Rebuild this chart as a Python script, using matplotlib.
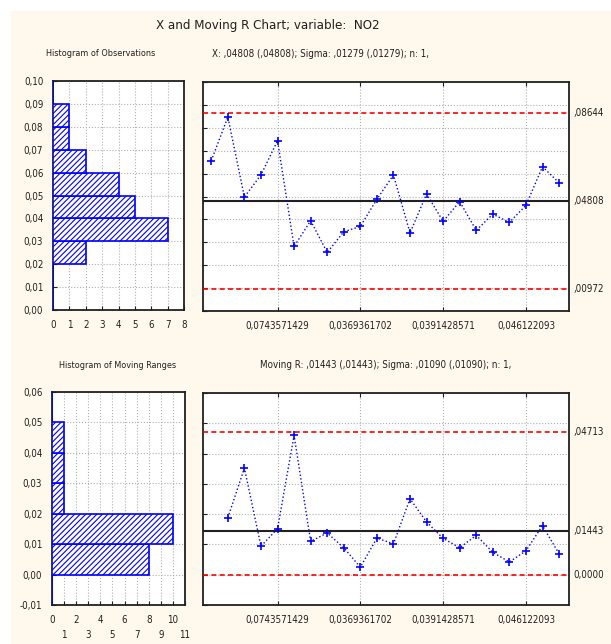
import numpy as np
import matplotlib
matplotlib.use("Agg")
import matplotlib.pyplot as plt
from matplotlib.patches import Rectangle
from matplotlib.transforms import blended_transform_factory

plt.rcParams["font.family"] = ["DejaVu Sans"]
plt.rcParams["font.stretch"] = "condensed"
plt.rcParams["hatch.linewidth"] = 0.8
plt.rcParams["hatch.color"] = "#0000FF"

# NO2 observations (sample 1..22)
obs = [0.0656, 0.0847, 0.0498, 0.0594, 0.0743571429, 0.0282, 0.0394, 0.0256,
       0.0346, 0.0369361702, 0.0488, 0.0594, 0.0341, 0.0511, 0.0391428571,
       0.0478, 0.0352, 0.0423, 0.0387, 0.046122093, 0.0630, 0.0560]

# moving ranges (sample 2..22)
mr = [0.0188, 0.0352, 0.0094, 0.0152, 0.0460, 0.0110, 0.0138, 0.0089, 0.0025,
      0.0121, 0.0102, 0.0251, 0.0174, 0.0120, 0.0089, 0.0130, 0.0074, 0.0042,
      0.0079, 0.0162, 0.0069]

# control limits
x_lcl, x_cl, x_ucl = 0.00972, 0.04808, 0.08644
r_lcl, r_cl, r_ucl = 0.0, 0.01443, 0.04713

# histogram bins and counts
obs_bins = [0.00, 0.01, 0.02, 0.03, 0.04, 0.05, 0.06, 0.07, 0.08, 0.09]
obs_counts = [0, 0, 2, 7, 5, 4, 2, 1, 1, 0]
mr_bins = [-0.01, 0.00, 0.01, 0.02, 0.03, 0.04, 0.05]
mr_counts = [0, 8, 10, 1, 1, 1, 0]

BLUE = "#0000FF"
CREAM = "#FFF8EC"
TEXT = "#202020"
TICK_FS = 7
XPAD = 7


def comma(v, nd):
    return f"{v:.{nd}f}".replace(".", ",")


def limit_label(v):
    if v == 0:
        return "0,0000"
    return f"{v:.5f}".replace("0.", ",", 1)


fig = plt.figure(figsize=(6.11, 6.44), dpi=100, facecolor="white")
W, H = 611, 644
fig.patches.append(Rectangle((11 / W, 0), 1, 1 - 11 / H, transform=fig.transFigure,
                             facecolor=CREAM, edgecolor="none", zorder=-10))


def axes_px(left, top, right, bottom):
    return fig.add_axes([left / W, 1 - bottom / H, (right - left) / W, (bottom - top) / H])


def style_frame(ax):
    for s in ax.spines.values():
        s.set_linewidth(1.3)
        s.set_color(TEXT)
    ax.set_facecolor("white")
    ax.tick_params(direction="in", length=3, width=0.8, labelsize=TICK_FS, colors=TEXT)
    ax.tick_params(axis="x", pad=XPAD)
    ax.tick_params(axis="y", pad=7)


def histogram(ax, bins, counts, xmax, ylim):
    style_frame(ax)
    ax.barh(bins, counts, height=0.01, align="edge", facecolor="white",
            edgecolor=BLUE, hatch="//////", linewidth=1.2, zorder=3)
    ax.set_xlim(0, xmax)
    ax.set_ylim(*ylim)
    yt = np.round(np.arange(ylim[0], ylim[1] + 0.001, 0.01), 2)
    ax.set_yticks(yt)
    ax.set_yticklabels([comma(v, 2) for v in yt])
    ax.set_xticks(range(0, xmax + 1))
    ax.set_xticklabels([str(i) for i in range(0, xmax + 1)])
    ax.grid(True, color="#b0b0b0", linestyle=":", linewidth=0.8, zorder=0)
    ax.set_axisbelow(True)


def control(ax, x, y, lcl, cl, ucl, ylim):
    style_frame(ax)
    ax.plot(x, y, color=BLUE, linestyle=":", linewidth=1.0, marker="+",
            markersize=6, markeredgewidth=1.2, zorder=4)
    ax.axhline(cl, color=TEXT, linewidth=1.5, zorder=3)
    for v in (lcl, ucl):
        ax.axhline(v, color="#FF0000", linestyle=(0, (3, 2)), linewidth=1.2, zorder=3)
    ax.set_xlim(0.5, 22.6)
    ax.set_ylim(*ylim)
    yt = np.round(np.arange(ylim[0], ylim[1] + 0.001, 0.01), 2)
    ax.set_yticks(yt)
    ax.set_yticklabels([])
    ticks = [5, 10, 15, 20]
    ax.set_xticks(ticks)
    ax.set_xticklabels([str(obs[t - 1]).replace(".", ",") for t in ticks])
    ax.tick_params(axis="x", top=True, length=3)
    ax.grid(True, color="#b0b0b0", linestyle=":", linewidth=0.8, zorder=0)
    ax.set_axisbelow(True)
    tr = blended_transform_factory(ax.transAxes, ax.transData)
    for v in (ucl, cl, lcl):
        ax.text(1.012, v, limit_label(v), transform=tr, ha="left", va="center",
                fontsize=TICK_FS, color=TEXT)


# top row: observations
ax1 = axes_px(53, 81, 184, 310)
histogram(ax1, obs_bins, obs_counts, 8, (0.0, 0.10))

ax2 = axes_px(203, 82, 569, 311)
control(ax2, np.arange(1, len(obs) + 1), obs, x_lcl, x_cl, x_ucl, (0.0, 0.10))

# bottom row: moving ranges
ax3 = axes_px(52, 392, 185, 605)
histogram(ax3, mr_bins, mr_counts, 11, (-0.01, 0.06))
for i, tick in enumerate(ax3.xaxis.get_major_ticks()):
    if i % 2 == 1:
        tick.set_pad(XPAD + 11)

ax4 = axes_px(203, 393, 569, 605)
control(ax4, np.arange(2, len(mr) + 2), mr, r_lcl, r_cl, r_ucl, (-0.01, 0.06))

# titles
fig.text(268 / W, 1 - 25 / H, "X and Moving R Chart; variable:  NO2",
         ha="center", va="center", fontsize=9.5, color=TEXT)
fig.text(101 / W, 1 - 54 / H, "Histogram of Observations",
         ha="center", va="center", fontsize=6.5, color=TEXT)
fig.text(320 / W, 1 - 54 / H, "X: ,04808 (,04808); Sigma: ,01279 (,01279); n: 1,",
         ha="center", va="center", fontsize=7, color=TEXT)
fig.text(118 / W, 1 - 365 / H, "Histogram of Moving Ranges",
         ha="center", va="center", fontsize=6.5, color=TEXT)
fig.text(386 / W, 1 - 365 / H, "Moving R: ,01443 (,01443); Sigma: ,01090 (,01090); n: 1,",
         ha="center", va="center", fontsize=7, color=TEXT)

fig.savefig("out.png", dpi=100, facecolor=fig.get_facecolor())
